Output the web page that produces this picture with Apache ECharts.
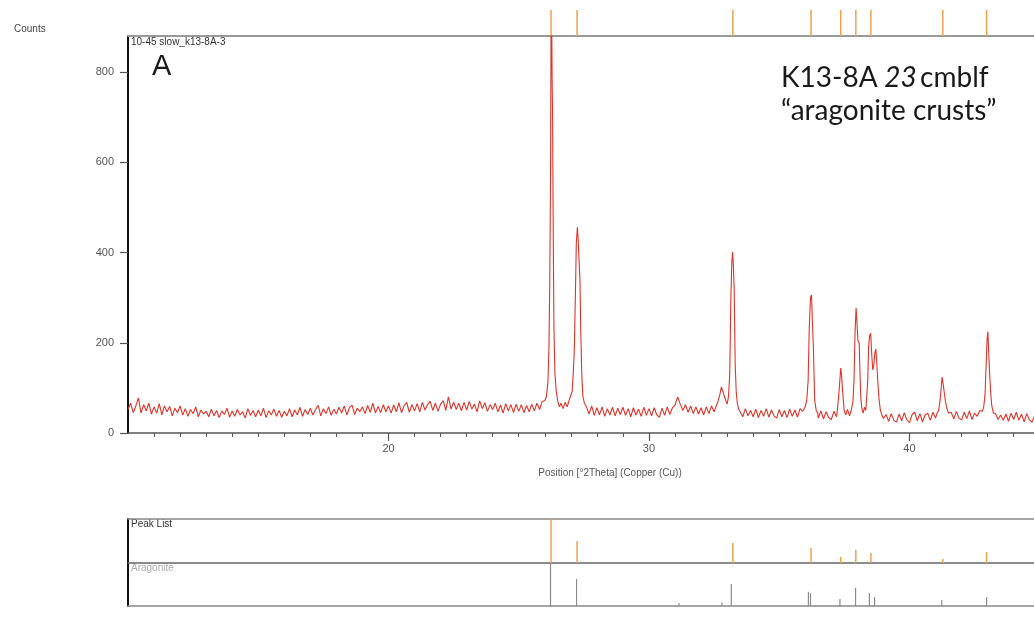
<!DOCTYPE html>
<html>
<head>
<meta charset="utf-8">
<script src="https://cdn.jsdelivr.net/npm/echarts@6/dist/echarts.min.js"></script>
<style>
  html, body { margin: 0; padding: 0; background: #ffffff; }
  #chart { width: 1034px; height: 619px; }
</style>
</head>
<body>
<div id="chart"></div>
<script>
// ---- Scan data: counts vs position (°2Theta), Cu radiation ----
const scanStep = 0.1;

// baseline 10.0 – 25.9 °2θ, one value per step
const scanFrom10 = [
  52, 66, 45, 60, 78, 44, 63, 49, 66, 42,
  58, 44, 65, 40, 60, 47, 59, 38, 55, 45,
  60, 40, 54, 37, 52, 43, 58, 36, 51, 42,
  48, 36, 53, 38, 50, 34, 49, 41, 55, 35,
  49, 37, 52, 40, 47, 33, 54, 39, 50, 36,
  51, 38, 55, 34, 49, 40, 53, 37, 50, 35,
  48, 38, 54, 36, 51, 40, 57, 37, 52, 41,
  55, 40, 52, 61, 38, 54, 43, 58, 39, 53,
  42, 57, 44, 60, 40, 56, 62, 41, 55, 47,
  58, 43, 61, 46, 66, 44, 59, 45, 63, 47,
  60, 44, 62, 47, 67, 45, 61, 68, 46, 63,
  49, 65, 47, 68, 51, 63, 70, 50, 66, 48,
  64, 72, 50, 80, 53, 69, 52, 66, 49, 68,
  51, 70, 53, 64, 47, 71, 54, 67, 48, 63,
  52, 66, 47, 62, 44, 65, 49, 63, 45, 64,
  48, 63, 45, 61, 47, 64, 49, 66, 52, 70
];

// 26.2 / 27.2 reflections
const peaks26to27 = [
  [26.0, 72], [26.06, 80], [26.12, 112], [26.16, 190], [26.19, 330], [26.22, 560],
  [26.24, 900], [26.26, 960], [26.28, 790], [26.30, 700], [26.32, 480], [26.35, 240],
  [26.39, 130], [26.44, 92], [26.5, 70], [26.56, 58], [26.62, 66], [26.7, 54],
  [26.78, 68], [26.86, 58], [26.94, 74], [27.0, 70], [27.05, 92], [27.09, 130],
  [27.13, 180], [27.17, 290], [27.21, 420], [27.25, 456], [27.28, 430], [27.31, 390],
  [27.35, 340], [27.38, 228], [27.42, 130], [27.46, 82], [27.52, 66]
];

// baseline 27.6 – 32.6 °2θ
const scanFrom27 = [
  58, 42, 60, 39,
  56, 40, 58, 37, 54, 40, 57, 38, 55, 41,
  57, 39, 54, 36, 56, 40, 53, 37, 57, 39,
  54, 38, 56, 40, 35, 55, 39, 58, 41, 56,
  62, 80, 64, 50, 63, 46, 60, 43, 58, 42,
  56, 40, 58, 43, 60, 47, 63
];

// 32.8 / 33.2 reflections
const peaks33 = [
  [32.65, 70], [32.72, 85], [32.78, 102], [32.83, 98], [32.88, 84], [32.95, 72],
  [33.0, 64], [33.05, 80], [33.1, 130], [33.14, 290], [33.18, 380], [33.21, 401],
  [33.24, 370], [33.27, 320], [33.31, 150], [33.35, 90], [33.39, 66], [33.45, 52]
];

// baseline 33.5 – 35.9 °2θ
const scanFrom33 = [
  52, 36, 54, 38, 50,
  36, 53, 34, 50, 37, 54, 35, 51, 38, 33,
  52, 36, 50, 34, 53, 37, 51, 35, 54, 48
];

// 36.2 reflection
const peaks36 = [
  [35.95, 52], [36.0, 58], [36.06, 75], [36.11, 117], [36.15, 228], [36.2, 300],
  [36.24, 306], [36.27, 250], [36.31, 191], [36.36, 73], [36.42, 50], [36.48, 44]
];

// baseline 36.5 – 37.2 °2θ
const scanFrom36 = [33, 49, 31, 47, 34, 30, 48, 36];

// 37.3 – 38.7 group
const peaks37to39 = [
  [37.25, 62], [37.29, 89], [37.32, 111], [37.36, 144], [37.39, 130], [37.43, 95],
  [37.49, 51], [37.55, 40], [37.62, 52], [37.7, 38], [37.77, 52], [37.83, 70],
  [37.87, 117], [37.91, 221], [37.95, 277], [37.98, 250], [38.02, 205], [38.07, 199],
  [38.1, 130], [38.13, 80], [38.17, 55], [38.22, 44], [38.27, 57], [38.32, 50],
  [38.36, 80], [38.4, 120], [38.43, 191], [38.47, 215], [38.51, 221], [38.55, 175],
  [38.59, 140], [38.63, 150], [38.67, 178], [38.71, 186], [38.75, 150], [38.78, 117],
  [38.83, 75], [38.88, 51], [38.94, 40], [39.0, 32]
];

// baseline 39.1 – 41.0 °2θ
const scanFrom39 = [41, 26, 43, 28, 24, 42, 27, 45, 29, 23, 41, 46, 27, 43, 25, 40, 44, 28, 46, 33];

// 41.3 reflection
const peaks41 = [
  [41.06, 44], [41.12, 50], [41.17, 70], [41.21, 95], [41.25, 124], [41.29, 110],
  [41.33, 92], [41.38, 70], [41.43, 56], [41.5, 44]
];

// baseline 41.6 – 42.8 °2θ
const scanFrom41 = [46, 31, 48, 33, 29, 46, 32, 49, 30, 44, 37, 50, 48];

// 42.9 reflection
const peaks43 = [
  [42.85, 58], [42.9, 85], [42.94, 147], [42.98, 210], [43.01, 225], [43.04, 180],
  [43.07, 140], [43.11, 95], [43.16, 60], [43.22, 44]
];

// baseline 43.3 – 44.8 °2θ
const scanFrom43 = [43, 30, 40, 28, 42, 26, 44, 30, 46, 28, 42, 25, 43, 29, 24, 38];

// ---- Peak list (measured) and Aragonite reference pattern ----
const peakListAngles = [26.24, 27.24, 33.22, 36.22, 37.36, 37.94, 38.52, 41.28, 42.96];
const peakListCounts = [880, 440, 400, 300, 120, 265, 200, 80, 220];

const aragoniteAngles = [26.22, 27.22, 31.15, 32.80, 33.16, 36.12, 36.2, 37.33, 37.93, 38.46, 38.66, 41.24, 42.96];
const aragoniteIntensity = [100, 63, 7, 9, 51, 33, 30, 16, 42, 30, 21, 14, 21];

// ---- Axis ticks ----
const countTicks = [0, 200, 400, 600, 800];
const angleLabels = [20, 30, 40];
const angleMin = 10, angleMax = 44.78;

// ---- Build series data ----
function stepped(start, values) {
  return values.map((v, i) => [Number((start + i * scanStep).toFixed(2)), v]);
}
const scan = [].concat(
  stepped(10.0, scanFrom10), peaks26to27,
  stepped(27.6, scanFrom27), peaks33,
  stepped(33.5, scanFrom33), peaks36,
  stepped(36.5, scanFrom36), peaks37to39,
  stepped(39.1, scanFrom39), peaks41,
  stepped(41.6, scanFrom41), peaks43,
  stepped(43.3, scanFrom43)
);
const minorAngles = [];
for (let a = 11; a <= 44; a++) { if (a % 10 !== 0) minorAngles.push(a); }

const peakListData = peakListAngles.map((a, i) => [a, peakListCounts[i]]);
const aragoniteData = aragoniteAngles.map((a, i) => [a, aragoniteIntensity[i]]);
const markerData = peakListAngles.map(a => [a, 1]);

// vertical stick from 0 up to the value
function stick(color, width) {
  return function (params, api) {
    const x = api.value(0), h = api.value(1);
    const p0 = api.coord([x, 0]);
    const p1 = api.coord([x, h]);
    return {
      type: 'line',
      shape: { x1: p0[0], y1: p0[1], x2: p1[0], y2: p1[1] },
      style: { stroke: color, lineWidth: width }
    };
  };
}

const FONT = 'Liberation Sans, Arial, sans-serif';
const hiddenX = (grid, pos) => ({
  gridIndex: grid, type: 'value', min: angleMin, max: angleMax, position: pos || 'bottom',
  axisLine: { show: false }, axisTick: { show: false }, axisLabel: { show: false }, splitLine: { show: false }
});
const frameX = (grid, pos, color, width) => ({
  gridIndex: grid, type: 'value', min: angleMin, max: angleMax, position: pos,
  axisLine: { show: true, onZero: false, lineStyle: { color: color, width: width } },
  axisTick: { show: false }, axisLabel: { show: false }, splitLine: { show: false }
});
const frameY = (grid, max) => ({
  gridIndex: grid, type: 'value', min: 0, max: max,
  axisLine: { show: true, onZero: false, lineStyle: { color: '#111', width: 2 } },
  axisTick: { show: false }, axisLabel: { show: false }, splitLine: { show: false }
});

const chart = echarts.init(document.getElementById('chart'), null, { renderer: 'canvas' });
chart.setOption({
  animation: false,
  backgroundColor: '#ffffff',
  grid: [
    { left: 128, top: 36, right: 0, height: 397 },   // diffractogram
    { left: 128, top: 519, right: 0, height: 44 },   // peak list
    { left: 128, top: 563, right: 0, height: 43 },   // aragonite
    { left: 128, top: 10, right: 0, height: 26 }     // peak markers above plot
  ],
  xAxis: [
    {
      gridIndex: 0, type: 'value', min: angleMin, max: angleMax, interval: 10,
      axisLine: { show: true, onZero: false, lineStyle: { color: '#555', width: 1.5 } },
      axisTick: { show: true, length: 8, customValues: angleLabels, lineStyle: { color: '#555', width: 1.2 } },
      axisLabel: { customValues: angleLabels, color: '#555', fontSize: 11, fontFamily: FONT, margin: 10 },
      splitLine: { show: false }
    },
    {
      gridIndex: 0, type: 'value', min: angleMin, max: angleMax, position: 'bottom',
      axisLine: { show: false },
      axisTick: { show: true, length: 4, customValues: minorAngles, lineStyle: { color: '#555', width: 1 } },
      axisLabel: { show: false }, splitLine: { show: false }
    },
    frameX(0, 'top', '#999', 2),
    frameX(1, 'top', '#888', 1.5),
    frameX(1, 'bottom', '#666', 1.5),
    frameX(2, 'bottom', '#888', 1.5),
    hiddenX(3)
  ],
  yAxis: [
    {
      gridIndex: 0, type: 'value', min: 0, max: 880,
      axisLine: { show: true, onZero: false, lineStyle: { color: '#111', width: 2 } },
      axisTick: { show: true, length: 8, customValues: countTicks, lineStyle: { color: '#555', width: 1.2 } },
      axisLabel: { customValues: countTicks, color: '#555', fontSize: 11, fontFamily: FONT, margin: 14 },
      splitLine: { show: false }
    },
    frameY(1, 880),
    frameY(2, 100),
    { gridIndex: 3, type: 'value', min: 0, max: 1, show: false }
  ],
  series: [
    {
      name: '10-45 slow_k13-8A-3', type: 'line', xAxisIndex: 0, yAxisIndex: 0,
      data: scan, showSymbol: false, symbol: 'none', clip: true,
      lineStyle: { color: '#e2332a', width: 1.1 }
    },
    {
      name: 'Peak List', type: 'custom', xAxisIndex: 4, yAxisIndex: 1,
      data: peakListData, renderItem: stick('#f2a24a', 1.5)
    },
    {
      name: 'Aragonite', type: 'custom', xAxisIndex: 5, yAxisIndex: 2,
      data: aragoniteData, renderItem: stick('#8c8c8c', 1.2)
    },
    {
      name: 'markers', type: 'custom', xAxisIndex: 6, yAxisIndex: 3,
      data: markerData, renderItem: stick('#f2a24a', 1.5)
    }
  ],
  graphic: [
    { type: 'text', left: 14, top: 24, style: { text: 'Counts', font: '10px ' + FONT, fill: '#444' } },
    { type: 'text', left: 131, top: 37, style: { text: '10-45 slow_k13-8A-3', font: '10px ' + FONT, fill: '#333' } },
    { type: 'text', left: 152, top: 52, style: { text: 'A', font: '29px ' + FONT, fill: '#1a1a1a' } },
    {
      type: 'text', left: 781, top: 61,
      style: {
        text: '{n|K13-8A}  {i|23} {n|cmblf}\n{n|\u201Caragonite crusts\u201D}',
        lineHeight: 33,
        rich: {
          n: { font: '28px Lato, "Open Sans", sans-serif', fill: '#1a1a1a', lineHeight: 33 },
          i: { font: 'italic 28px Lato, "Open Sans", sans-serif', fill: '#1a1a1a', lineHeight: 33 }
        }
      }
    },
    {
      type: 'text', x: 610, y: 468,
      style: { text: 'Position [\u00B02Theta] (Copper (Cu))', font: '10px ' + FONT, fill: '#555', textAlign: 'center' }
    },
    { type: 'text', left: 131, top: 519, style: { text: 'Peak List', font: '10px ' + FONT, fill: '#333' } },
    { type: 'text', left: 131, top: 563, style: { text: 'Aragonite', font: '10px ' + FONT, fill: '#aaa' } }
  ]
});
</script>
</body>
</html>
